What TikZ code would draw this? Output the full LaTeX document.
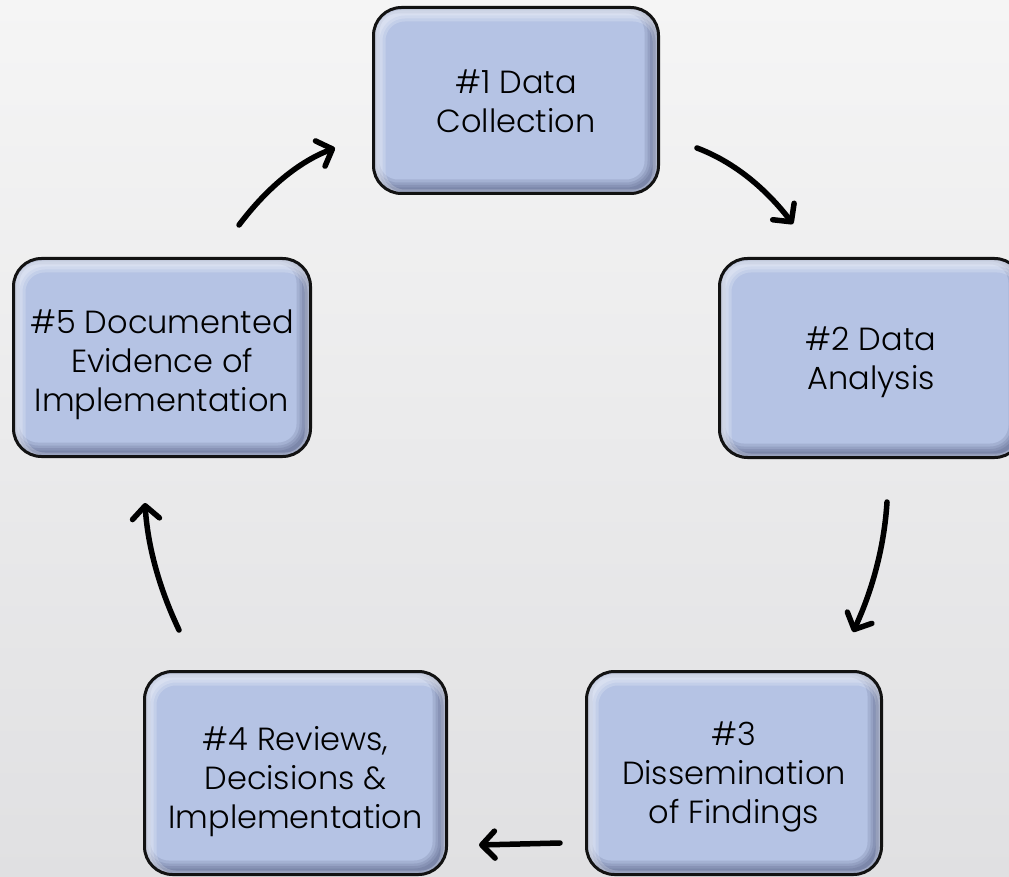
\documentclass[tikz,border=0pt]{standalone}
\usepackage{fontspec}
\setmainfont{Poppins}[UprightFont=* Light]
\usetikzlibrary{arrows.meta,calc}
\definecolor{boxblue}{RGB}{181,195,228}
\definecolor{bevdark}{RGB}{50,60,95}
\definecolor{bgtop}{RGB}{245,245,245}
\definecolor{bgbot}{RGB}{224,224,226}
\definecolor{edge}{RGB}{18,18,18}
\newcommand\stagetext[2]{\raisebox{-#1pt}[\height][\depth]{\begin{tabular}{@{}c@{}}#2\end{tabular}}}
\begin{document}
\begin{tikzpicture}[x=1pt,y=-1pt,
  stagebox/.style={draw=edge, line width=3pt, fill=boxblue, rounded corners=28pt,
    align=center, inner sep=0pt, text=black,
    font=\fontsize{32}{39}\selectfont,
    path picture={
      \foreach \w in {4,9,14,20}{
        \draw[line width=\w pt, draw=bevdark, opacity=.13, rounded corners=28pt]
          ([xshift=-4pt,yshift=4pt]path picture bounding box.south west) rectangle
          ([xshift=-4pt,yshift=4pt]path picture bounding box.north east);
      }
      \foreach \w in {6,12,18}{
        \draw[line width=\w pt, draw=white, opacity=.2, rounded corners=28pt]
          ([xshift=3pt,yshift=-5pt]path picture bounding box.south west) rectangle
          ([xshift=3pt,yshift=-5pt]path picture bounding box.north east);
      }
    }},
  flow/.style={line width=5.5pt, line cap=round, draw=black,
    -{Straight Barb[length=13pt,width=27pt,round]}}
]
\useasboundingbox (0,0) rectangle (1009,877);
\clip (0,0) rectangle (1009,877);
\shade[top color=bgtop, bottom color=bgbot] (0,0) rectangle (1009,877);

\node[stagebox, minimum width=285pt, minimum height=186pt] (s1) at (516,100.5) {\stagetext{5}{\#1 Data\\Collection}};
\node[stagebox, minimum width=303pt, minimum height=199pt] (s2) at (871,358) {\stagetext{4}{\#2 Data\\Analysis}};
\node[stagebox, minimum width=295pt, minimum height=203pt] (s3) at (734,773) {\stagetext{4}{\#3\\Dissemination\\of Findings}};
\node[stagebox, minimum width=302pt, minimum height=203pt] (s4) at (295.5,773) {\stagetext{9}{\#4 Reviews,\\Decisions \&\\Implementation}};
\node[stagebox, minimum width=297pt, minimum height=198pt] (s5) at (162,357.5) {\stagetext{7}{\#5 Documented\\Evidence of\\Implementation}};

\coordinate (a1s) at (697,148);  \coordinate (a1c) at (750,168);  \coordinate (a1e) at (793,224);
\coordinate (a2s) at (887,502);  \coordinate (a2c) at (883,567);  \coordinate (a2e) at (853,632);
\coordinate (a3s) at (560,843);  \coordinate (a3c) at (520,844);  \coordinate (a3e) at (479,845);
\coordinate (a4s) at (179,630);  \coordinate (a4c) at (149,567);  \coordinate (a4e) at (145,503);
\coordinate (a5s) at (239,225);  \coordinate (a5c) at (282,168);  \coordinate (a5e) at (335,148);

\foreach \a in {a1,a2,a3,a4,a5}{
  \draw[flow] (\a s) .. controls ($(\a s)!2/3!(\a c)$) and ($(\a e)!2/3!(\a c)$) .. (\a e);
}
\end{tikzpicture}
\end{document}
